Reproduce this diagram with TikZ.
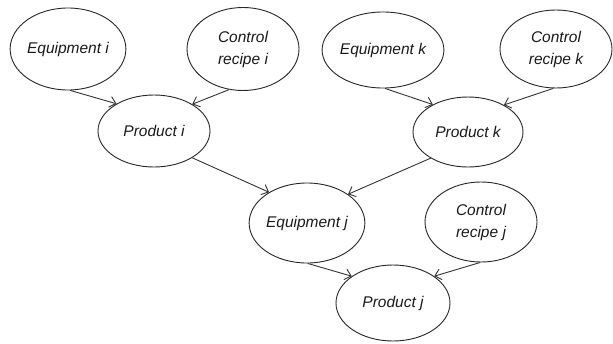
\documentclass[tikz,border=0pt]{standalone}
\usepackage{fontspec}
\setmainfont{Liberation Sans}
\usetikzlibrary{shapes.geometric,arrows.meta}
\begin{document}
\begin{tikzpicture}[x=1pt,y=-1pt,
  el/.style={draw=black!85,line width=0.9pt,ellipse,inner sep=0pt,
    font=\fontsize{15.5}{22}\selectfont\itshape,align=center,text=black!90},
  conn/.style={draw=black!80,line width=0.9pt,-{Straight Barb[length=6pt,width=11pt,line width=0.9pt]}}]
\useasboundingbox (0,0) rectangle (613,343);
\node[el,minimum width=111pt,minimum height=82pt] (ei) at (68,49) {Equipment \textit{i}};
\node[el,minimum width=112pt,minimum height=83pt] (ci) at (243,49) {Control\\recipe \textit{i}};
\node[el,minimum width=112pt,minimum height=72pt] (pi) at (154,131) {Product \textit{i}};
\node[el,minimum width=116pt,minimum height=76pt] (ek) at (383,50) {Equipment \textit{k}};
\node[el,minimum width=112pt,minimum height=78pt] (ck) at (556,49) {Control\\recipe \textit{k}};
\node[el,minimum width=110pt,minimum height=70pt] (pk) at (468,132) {Product \textit{k}};
\node[el,minimum width=114pt,minimum height=80pt] (ej) at (307,223) {Equipment \textit{j}};
\node[el,minimum width=112pt,minimum height=80pt] (cj) at (481,222) {Control\\recipe \textit{j}};
\node[el,minimum width=114pt,minimum height=76pt] (pj) at (393,303) {Product \textit{j}};
\draw[conn] (ei.-87) -- (pi.144);
\draw[conn] (ci.-109) -- (pi.35);
\draw[conn] (ek.-87) -- (pk.142);
\draw[conn] (ck.-94) -- (pk.37);
\draw[conn] (pi.-35) -- (ej.141);
\draw[conn] (pk.-145) -- (ej.35);
\draw[conn] (ej.-89) -- (pj.147);
\draw[conn] (cj.-91) -- (pj.33);
\end{tikzpicture}
\end{document}
